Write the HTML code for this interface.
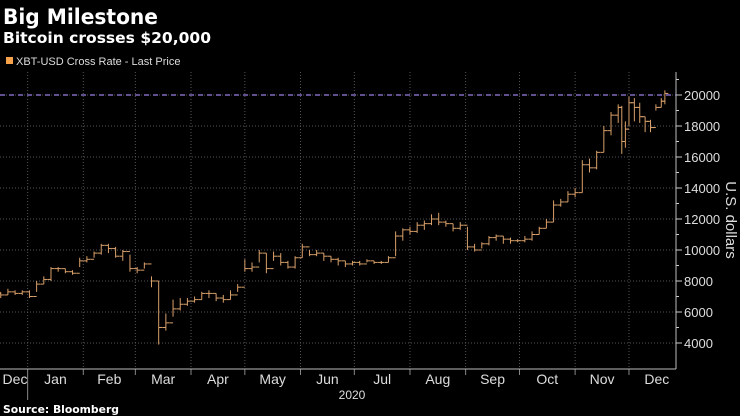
<!DOCTYPE html>
<html><head><meta charset="utf-8"><style>
html,body{margin:0;padding:0;background:#000;}
body{width:740px;height:416px;overflow:hidden;font-family:"Liberation Sans",sans-serif;color:#fff;}
</style></head><body>
<svg id="chart" width="740" height="416" xmlns="http://www.w3.org/2000/svg" style="display:block">
<rect width="740" height="416" fill="#000"/>
<text x="3" y="24" font-family="DejaVu Sans, sans-serif" font-size="21" font-weight="bold" fill="#fff" textLength="155" lengthAdjust="spacingAndGlyphs">Big Milestone</text>
<text x="3" y="43" font-family="DejaVu Sans, sans-serif" font-size="15" font-weight="bold" fill="#fff" textLength="208" lengthAdjust="spacingAndGlyphs">Bitcoin crosses $20,000</text>
<rect x="6" y="57" width="7" height="7" fill="#f5a24a"/>
<text x="16" y="65" font-size="11" fill="#ddd">XBT-USD Cross Rate - Last Price</text>
<g id="grid"></g>
<g id="bars"></g>
<g id="axes"></g>
<text transform="translate(726,220) rotate(90)" text-anchor="middle" font-size="15" fill="#ddd">U.S. dollars</text>
<text x="352" y="399" text-anchor="middle" font-size="12" fill="#ddd">2020</text>
<text x="3" y="413" font-family="DejaVu Sans, sans-serif" font-size="11" font-weight="bold" fill="#fff" textLength="116" lengthAdjust="spacingAndGlyphs">Source: Bloomberg</text>
</svg>
<script>
const days=[0,4,8,12,16,20,24,28,32,36,40,44,48,52,56,60,64,68,72,76,80,84,88,92,96,100,104,108,112,116,120,124,128,132,136,140,144,148,152,156,160,164,168,172,176,180,184,188,192,196,200,204,208,212,216,220,224,228,232,236,240,244,248,252,256,260,264,268,272,276,280,284,288,292,296,300,304,308,312,316,320,324,328,332,336,340,344,348,352,356,360,362,364,366,369,372,375,378,381,384,386];
const closes=[6.9,7.3,7.2,7.2,7.1,7.3,7.2,7.3,7.0,7.8,8.1,8.8,8.8,8.6,8.5,9.3,9.4,9.8,10.3,10.1,9.6,9.9,8.8,8.7,9.1,8.0,5.0,5.3,6.2,6.5,6.7,6.8,7.2,7.2,6.9,6.8,7.1,7.6,8.8,8.9,9.8,8.8,9.6,9.2,8.9,9.5,10.2,9.7,9.8,9.6,9.4,9.3,9.1,9.2,9.1,9.3,9.2,9.2,9.5,10.9,11.3,11.2,11.6,11.7,12.0,11.8,11.7,11.4,11.6,10.2,10.0,10.4,10.8,10.9,10.7,10.6,10.6,10.7,11.0,11.4,11.8,12.9,13.1,13.6,13.7,15.5,15.3,16.3,17.7,18.7,19.2,17.0,17.8,19.5,19.2,18.6,18.3,17.9,19.2,19.6,20.1];
const highs=[7.5,7.4,7.4,7.3,7.3,7.5,7.4,7.4,7.4,8.0,8.3,8.9,8.9,8.8,8.7,9.5,9.6,9.9,10.4,10.4,10.2,10.0,9.7,8.9,9.2,8.3,8.0,5.9,6.8,6.9,6.9,7.0,7.3,7.4,7.2,7.1,7.4,7.8,9.4,9.2,10.0,9.8,9.9,9.8,9.3,9.6,10.4,10.0,10.0,9.8,9.6,9.5,9.3,9.3,9.3,9.4,9.3,9.3,9.6,11.2,11.4,11.5,11.8,11.9,12.3,12.4,11.9,11.7,11.8,11.5,10.4,10.5,10.9,11.0,10.9,10.8,10.7,10.9,11.2,11.5,12.0,13.2,13.3,13.8,14.0,15.8,15.9,16.4,18.0,18.9,19.4,19.3,18.3,19.9,19.8,19.5,18.6,18.4,19.4,19.8,20.3];
const lows=[6.6,7.0,7.0,7.0,6.9,7.1,7.1,7.1,6.9,7.3,7.8,8.0,8.6,8.5,8.4,8.9,9.2,9.5,9.7,9.8,9.5,9.3,8.6,8.5,8.8,7.6,3.9,4.8,5.7,6.1,6.4,6.6,6.8,6.9,6.7,6.6,6.8,7.3,8.6,8.6,9.2,8.5,9.3,9.0,8.8,8.8,9.5,9.6,9.6,9.3,9.2,9.0,8.9,9.0,9.0,9.2,9.1,9.1,9.2,9.6,10.6,11.0,11.1,11.3,11.6,11.6,11.5,11.2,11.3,10.0,9.9,10.1,10.3,10.6,10.4,10.4,10.5,10.5,10.6,11.0,11.4,11.8,12.8,13.1,13.4,13.7,15.0,15.2,16.3,17.4,18.2,16.2,16.6,18.0,18.3,18.2,17.6,17.6,19.0,19.2,19.4];
const yTicks=[4000,6000,8000,10000,12000,14000,16000,18000,20000];
const monthLabels=["Dec","Jan","Feb","Mar","Apr","May","Jun","Jul","Aug","Sep","Oct","Nov","Dec"];
const monthStarts=[0,31,62,91,122,152,183,213,244,275,305,336,366,397];
const milestone=20000;

const NS="http://www.w3.org/2000/svg";
const X0=-28,PX=1.795,AX=676,AY=369;
function xs(d){return X0+PX*d;}
function ys(v){return 95+(20000-v)*0.0155;}
function mk(tag,attrs,parent){const e=document.createElementNS(NS,tag);for(const k in attrs)e.setAttribute(k,attrs[k]);parent.appendChild(e);return e;}
const grid=document.getElementById('grid'),bars=document.getElementById('bars'),axes=document.getElementById('axes');
yTicks.forEach(v=>{
  const l=mk('line',{x1:0,x2:AX,y1:ys(v),y2:ys(v),stroke:'#555','stroke-width':1,'stroke-dasharray':'1,2'},grid);
  
  
  const t=mk('line',{x1:AX,x2:AX+6,y1:ys(v),y2:ys(v),stroke:'#ccc'},axes);
  
  
  const tx=mk('text',{x:AX+8,y:ys(v)+5,'font-size':13,fill:'#ddd'},axes);tx.textContent=v;
  
  
});
for(let v=5000;v<=21000;v+=2000){const t=mk('line',{x1:AX,x2:AX+3,y1:ys(v),y2:ys(v),stroke:'#ccc'},axes);
  
  }
for(let i=1;i<monthStarts.length-1;i++){
  const x=xs(monthStarts[i]);
  const g=mk('line',{x1:x,x2:x,y1:72,y2:AY,stroke:'#555','stroke-dasharray':'1,2'},grid);
  
  
  const t=mk('line',{x1:x,x2:x,y1:AY,y2:i==1?400:AY+6,stroke:'#888'},axes);
  
  
}
monthLabels.forEach((m,i)=>{
  let cx=(xs(monthStarts[i])+xs(monthStarts[i+1]))/2; if(i==0)cx=15;
  const t=mk('text',{x:cx,y:384,'text-anchor':'middle','font-size':14,fill:'#ddd'},axes);t.textContent=m;
  
  
});
const ax=mk('line',{x1:0,x2:AX,y1:AY,y2:AY,stroke:'#bbb'},axes);


const ay=mk('line',{x1:AX,x2:AX,y1:72,y2:AY,stroke:'#bbb'},axes);


const ml=mk('line',{x1:0,x2:AX,y1:ys(milestone),y2:ys(milestone),stroke:'#9b7fe6','stroke-width':1.3,'stroke-dasharray':'5,4'},axes);


days.forEach((d,i)=>{
  const x=xs(d),o=i?closes[i-1]:closes[0];
  const g=mk('g',{stroke:'#d9a06a','stroke-width':1},bars);
  
  
  mk('line',{x1:x,x2:x,y1:ys(highs[i]*1000),y2:ys(lows[i]*1000)},g);
  mk('line',{x1:x-3.5,x2:x,y1:ys(o*1000),y2:ys(o*1000)},g);
  mk('line',{x1:x,x2:x+3.5,y1:ys(closes[i]*1000),y2:ys(closes[i]*1000)},g);
});
</script>
</body></html>
